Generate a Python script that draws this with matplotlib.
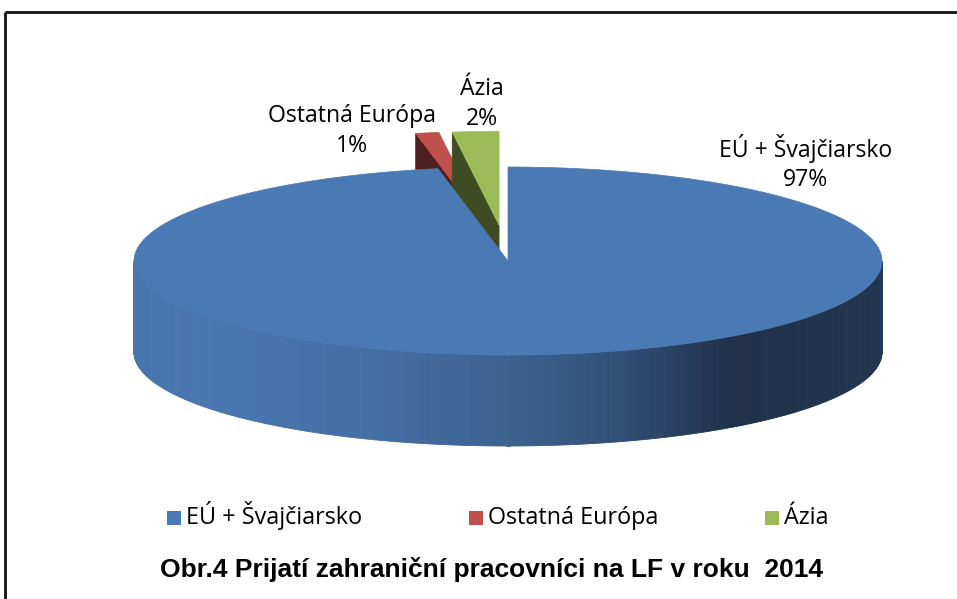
import numpy as np
import matplotlib
matplotlib.use("Agg")
import matplotlib.pyplot as plt
from matplotlib import font_manager
from matplotlib.patches import Polygon, Rectangle
from matplotlib.colors import to_rgb

# data
labels = ["EÚ + Švajčiarsko", "Ostatná Európa", "Ázia"]
shares = [97, 1, 2]
top_colors = ["#4a7ab4", "#c0504d", "#9bbb59"]
wall_colors = ["#3d6494", "#4f1f1f", "#3e4b23"]
explode = [0.0, 0.38, 0.38]
title = "Obr.4 Prijatí zahraniční pracovníci na LF v roku  2014"

# geometry of the 3d pie (pixel space)
cx, cy = 508, 261
rx, ry = 374, 94
depth = 91

W, H = 957, 599
fig = plt.figure(figsize=(W / 100, H / 100), dpi=100)
ax = fig.add_axes([0, 0, 1, 1])
ax.set_xlim(0, W)
ax.set_ylim(H, 0)
ax.axis("off")

# side gradient of the big slice, left -> right
grad_stops = [(0.0, "#4775ac"), (0.1, "#4877b0"), (0.3, "#4470a5"),
              (0.5, "#3c6290"), (0.65, "#314f78"), (0.8, "#1f3049"),
              (1.0, "#22364f")]


def grad_color(f):
    f = min(max(f, 0), 1)
    for (f0, c0), (f1, c1) in zip(grad_stops[:-1], grad_stops[1:]):
        if f0 <= f <= f1:
            a = (f - f0) / (f1 - f0)
            c0, c1 = np.array(to_rgb(c0)), np.array(to_rgb(c1))
            return tuple(c0 + (c1 - c0) * a)
    return to_rgb(grad_stops[-1][1])


def pt(t, ox, oy, dz=0.0):
    return (cx + ox + rx * np.cos(t), cy + oy - ry * np.sin(t) + dz)


# slice angles: start at 12 o'clock, clockwise
fracs = np.array(shares) / sum(shares)
bounds = []
a = np.pi / 2
for f in fracs:
    bounds.append((a - 2 * np.pi * f, a))  # (clockwise end, counter-clockwise end)
    a -= 2 * np.pi * f


def draw_slice(i, z):
    t0, t1 = bounds[i]
    tm = (t0 + t1) / 2
    ox = explode[i] * rx * np.cos(tm)
    oy = -explode[i] * ry * np.sin(tm)
    c = (cx + ox, cy + oy)

    # radial walls
    for edge, normal in ((t1, t1 + np.pi / 2), (t0, t0 - np.pi / 2)):
        if np.sin(normal) < 0:
            p = pt(edge, ox, oy)
            poly = [c, p, (p[0], p[1] + depth), (c[0], c[1] + depth)]
            ax.add_patch(Polygon(poly, closed=True, fc=wall_colors[i],
                                 ec=wall_colors[i], lw=0.5, zorder=z))

    # outer wall (front half only)
    lo, hi = max(t0, -np.pi), min(t1, 0.0)
    if lo < hi:
        ts = np.linspace(lo, hi, 300)
        for ta, tb in zip(ts[:-1], ts[1:]):
            pa, pb = pt(ta, ox, oy), pt(tb, ox, oy)
            poly = [pa, pb, (pb[0], pb[1] + depth), (pa[0], pa[1] + depth)]
            if i == 0:
                col = grad_color(((pa[0] + pb[0]) / 2 - (cx - rx)) / (2 * rx))
            else:
                col = wall_colors[i]
            ax.add_patch(Polygon(poly, closed=True, fc=col, ec=col, lw=0.6,
                                 zorder=z + 0.1))

    # top face
    ts = np.linspace(t0, t1, 400)
    poly = [c] + [pt(t, ox, oy) for t in ts]
    ax.add_patch(Polygon(poly, closed=True, fc=top_colors[i], ec=top_colors[i],
                         lw=0.5, zorder=z + 0.2))


draw_slice(1, 1)
draw_slice(2, 2)
draw_slice(0, 3)

# data labels
sans = ["Open Sans", "DejaVu Sans"]
lab_pos = [(806, 163), (352, 131), (482, 104)]
for lab, s, (x, y) in zip(labels, shares, lab_pos):
    ax.text(x, y, f"{lab}\n{s}%", family=sans, fontsize=16.6, color="#000000",
            ha="center", va="center", linespacing=1.28, zorder=10)

# legend
leg_x = [167, 469, 765]
for lab, col, x in zip(labels, top_colors, leg_x):
    ax.add_patch(Rectangle((x, 510.5), 14, 14, fc=col, ec="none", zorder=10))
    ax.text(x + 19, 524.5, lab, family=sans, fontsize=16.8,
            ha="left", va="baseline", zorder=10)

# title (condensed bold sans in the original)
installed = {f.name for f in font_manager.fontManager.ttflist}
if "Liberation Sans Narrow" in installed:
    tfam, tsize = "Liberation Sans Narrow", 23
else:
    tfam, tsize = "Liberation Sans", 19
ax.text(491, 569, title, family=tfam, fontweight="bold",
        fontsize=tsize, ha="center", va="center", zorder=10)

# frame (top and left visible)
ax.plot([5, 5], [H, 12], color="#111111", lw=2, solid_capstyle="butt")
ax.plot([5, W], [12, 12], color="#111111", lw=2, solid_capstyle="butt")

fig.savefig("out.png", dpi=100)
